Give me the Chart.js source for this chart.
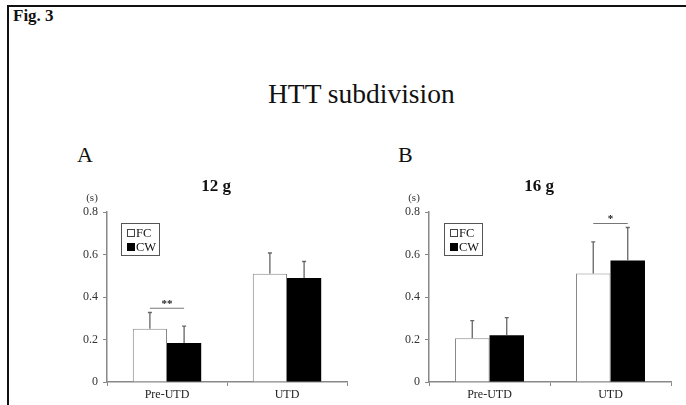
<!DOCTYPE html>
<html>
<head>
<meta charset="utf-8">
<script src="https://cdn.jsdelivr.net/npm/chart.js@4"></script>
<style>
  body { margin: 0; background: #fff; }
  #fig { position: relative; width: 686px; height: 405px; overflow: hidden; font-family: "Liberation Serif", "DejaVu Serif", serif; color: #111; }
  .frame { position: absolute; left: 7px; top: 5px; width: 700px; height: 420px; border-top: 2px solid #111; border-left: 2px solid #111; }
  .txt { position: absolute; white-space: nowrap; line-height: 1; }
  .panel { position: absolute; top: 140px; height: 265px; }
</style>
</head>
<body>
<div id="fig">
  <div class="frame"></div>
  <div class="txt" style="left:13px; top:7px; font-size:17px; font-weight:bold;">Fig. 3</div>
  <div class="txt" style="left:268px; top:80px; font-size:27.5px;">HTT subdivision</div>
  <div class="txt" style="left:77px; top:144px; font-size:22px;">A</div>
  <div class="txt" style="left:398px; top:144px; font-size:22px;">B</div>
  <div class="panel" style="left:40px; width:320px;"><canvas id="chartA" width="320" height="265"></canvas></div>
  <div class="panel" style="left:360px; width:326px;"><canvas id="chartB" width="326" height="265"></canvas></div>
</div>
<script>
// categorias e valores (médias e desvios, em segundos)
const categorias = ["Pre-UTD", "UTD"];
const yTicks = [0, 0.2, 0.4, 0.6, 0.8];

const fc12 = [0.251, 0.509];
const fc12Err = [0.076, 0.098];
const cw12 = [0.184, 0.489];
const cw12Err = [0.079, 0.078];

const fc16 = [0.206, 0.511];
const fc16Err = [0.083, 0.148];
const cw16 = [0.220, 0.572];
const cw16Err = [0.083, 0.155];

// significância: [categoria, nível, marca]
const sig12 = [0, 0.347, "**"];
const sig16 = [1, 0.746, "*"];

const serif = '"Liberation Serif", "DejaVu Serif", serif';

const decoracao = {
  id: "decoracao",
  afterDatasetsDraw(chart) {
    const ctx = chart.ctx;
    const area = chart.chartArea;
    const y = chart.scales.y;
    const cfg = chart.options.plugins.decoracao;

    // barras de erro (só para cima)
    ctx.save();
    ctx.strokeStyle = "#666";
    ctx.lineWidth = 1.3;
    chart.data.datasets.forEach((ds, i) => {
      chart.getDatasetMeta(i).data.forEach((bar, j) => {
        const topo = y.getPixelForValue(ds.data[j] + ds.erro[j]);
        ctx.beginPath();
        ctx.moveTo(bar.x, bar.y);
        ctx.lineTo(bar.x, topo);
        ctx.moveTo(bar.x - 2, topo);
        ctx.lineTo(bar.x + 2, topo);
        ctx.stroke();
      });
    });

    // linha de significância
    const [cat, nivel, marca] = cfg.sig;
    const x1 = chart.getDatasetMeta(0).data[cat].x;
    const x2 = chart.getDatasetMeta(1).data[cat].x;
    const ys = y.getPixelForValue(nivel);
    ctx.strokeStyle = "#777";
    ctx.lineWidth = 1.2;
    ctx.beginPath();
    ctx.moveTo(x1, ys);
    ctx.lineTo(x2, ys);
    ctx.stroke();
    ctx.fillStyle = "#222";
    ctx.font = "bold 11px " + serif;
    ctx.textAlign = "center";
    ctx.textBaseline = "alphabetic";
    ctx.fillText(marca, (x1 + x2) / 2, ys - 1);

    // legenda
    const lx = area.left + cfg.legendaX;
    const ly = area.top + 11;
    ctx.strokeStyle = "#555";
    ctx.lineWidth = 1;
    ctx.strokeRect(lx + 0.5, ly + 0.5, 38, 32);
    ctx.font = "12.5px " + serif;
    ctx.textAlign = "left";
    ctx.textBaseline = "middle";
    chart.data.datasets.forEach((ds, i) => {
      const cy = ly + 10 + i * 14;
      ctx.fillStyle = ds.backgroundColor;
      ctx.fillRect(lx + 6, cy - 4, 8, 8);
      if (i === 0) {
        ctx.strokeStyle = "#444";
        ctx.strokeRect(lx + 6.5, cy - 3.5, 7, 7);
      }
      ctx.fillStyle = "#111";
      ctx.fillText(ds.label, lx + 15, cy + 1);
    });

    // unidade e título do painel
    ctx.font = "11px " + serif;
    ctx.textAlign = "center";
    ctx.textBaseline = "alphabetic";
    ctx.fillStyle = "#333";
    ctx.fillText("(s)", area.left - 15, area.top - 11);
    ctx.font = "bold 17px " + serif;
    ctx.fillStyle = "#111";
    ctx.fillText(cfg.titulo, (area.left + area.right) / 2 - 11, area.top - 21);
    ctx.restore();
  }
};

function criarGrafico(id, titulo, fc, fcErr, cw, cwErr, sig, larguraY, padDireita, legendaX) {
  return new Chart(document.getElementById(id), {
    type: "bar",
    data: {
      labels: categorias,
      datasets: [
        { label: "FC", data: fc, erro: fcErr, backgroundColor: "#ffffff", borderColor: "#888", borderWidth: 1 },
        { label: "CW", data: cw, erro: cwErr, backgroundColor: "#000000", borderColor: "#000", borderWidth: 0 }
      ]
    },
    options: {
      responsive: false,
      animation: false,
      layout: { padding: { left: 0, right: padDireita, top: 72, bottom: 0 } },
      datasets: { bar: { barPercentage: 1, categoryPercentage: 0.57 } },
      plugins: {
        legend: { display: false },
        tooltip: { enabled: false },
        decoracao: { titulo: titulo, sig: sig, legendaX: legendaX }
      },
      scales: {
        x: {
          grid: { offset: true, drawOnChartArea: false, tickLength: 4, color: "#888" },
          border: { color: "#888", width: 1.5 },
          ticks: { color: "#222", font: { family: serif, size: 12 }, padding: 2 },
          afterFit: s => { s.height = 23; }
        },
        y: {
          min: 0,
          max: 0.8,
          afterBuildTicks: s => { s.ticks = yTicks.map(v => ({ value: v })); },
          grid: { drawOnChartArea: false, tickLength: 4, color: "#888" },
          border: { color: "#888", width: 1.5 },
          ticks: {
            color: "#333",
            padding: 5,
            font: { family: serif, size: 12 },
            callback: v => v === 0 ? "0" : v.toFixed(1)
          },
          afterFit: s => { s.width = larguraY; }
        }
      }
    },
    plugins: [decoracao]
  });
}

criarGrafico("chartA", "12 g", fc12, fc12Err, cw12, cw12Err, sig12, 67, 13, 14);
criarGrafico("chartB", "16 g", fc16, fc16Err, cw16, cw16Err, sig16, 69, 15, 15);
</script>
</body>
</html>
